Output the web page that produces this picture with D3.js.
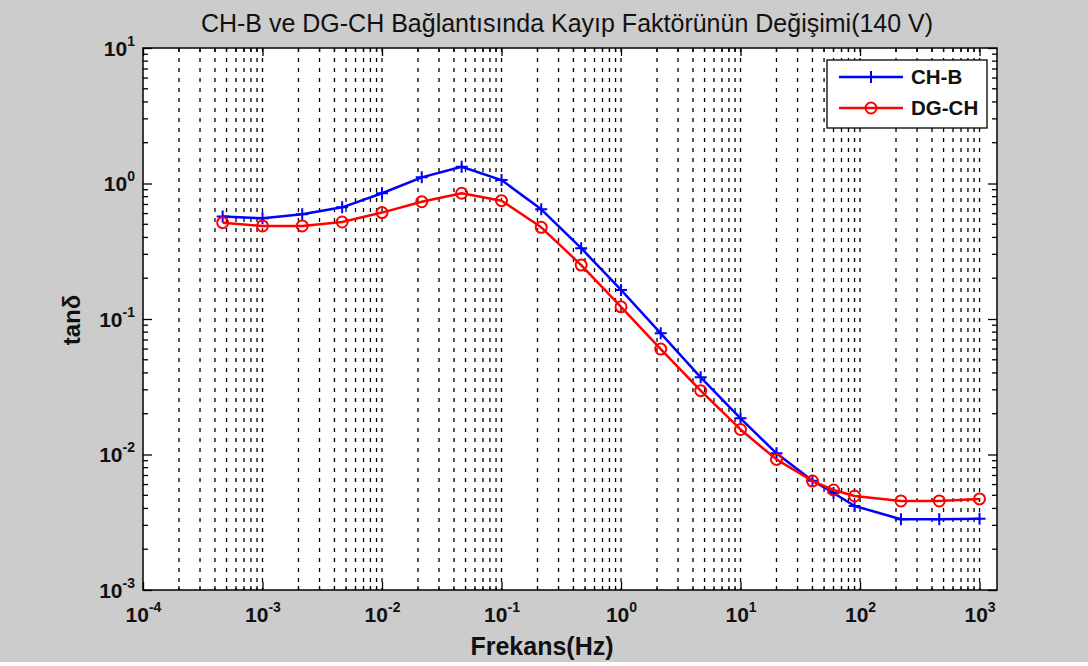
<!DOCTYPE html>
<html>
<head>
<meta charset="utf-8">
<script src="https://cdn.jsdelivr.net/npm/d3@7"></script>
<style>
  html, body { margin: 0; padding: 0; background: #cccccc; }
  svg { display: block; }
</style>
</head>
<body>
<svg id="chart" width="1088" height="666"></svg>
<script>
// Measurement frequencies (Hz)
const frequencies = [4.64e-4, 1e-3, 2.15e-3, 4.64e-3, 0.01, 0.0215, 0.0464, 0.1, 0.215, 0.464,
                     1, 2.15, 4.64, 10, 20, 40, 60, 90, 220, 460, 1000];
// Loss factor tanδ for the CH-B connection
const chB = [0.57, 0.553, 0.593, 0.667, 0.847, 1.11, 1.33, 1.06, 0.645, 0.333,
             0.164, 0.0784, 0.0371, 0.0185, 0.0102, 0.0064, 0.0052, 0.00417, 0.00333, 0.00333, 0.00335];
// Loss factor tanδ for the DG-CH connection
const dgCH = [0.514, 0.486, 0.486, 0.52, 0.61, 0.734, 0.847, 0.747, 0.475, 0.25,
              0.123, 0.060, 0.0296, 0.0153, 0.0092, 0.00637, 0.00547, 0.00494, 0.00454, 0.00454, 0.0047];
const seriesNames = ["CH-B", "DG-CH"];
const xTickExponents = [-4, -3, -2, -1, 0, 1, 2, 3];
const yTickExponents = [-3, -2, -1, 0, 1];
const titleText = "CH-B ve DG-CH Bağlantısında Kayıp Faktörünün Değişimi(140 V)";
const xLabelText = "Frekans(Hz)";
const yLabelText = "tanδ";

const svg = d3.select("#chart");
const W = 1088, H = 666;
const plot = { left: 143, right: 997, top: 48, bottom: 590 };

svg.append("rect").attr("width", W).attr("height", H).attr("fill", "#cccccc");
svg.append("rect").attr("x", 0).attr("y", 662).attr("width", W).attr("height", 4).attr("fill", "#ffffff");

const x = d3.scaleLog().domain([1e-4, 1400]).range([plot.left, plot.right]);
const y = d3.scaleLog().domain([1e-3, 10]).range([plot.bottom, plot.top]);

const font = "'Liberation Sans', Arial, sans-serif";

// plot background
svg.append("rect")
  .attr("x", plot.left).attr("y", plot.top)
  .attr("width", plot.right - plot.left).attr("height", plot.bottom - plot.top)
  .attr("fill", "#ffffff");

// minor / major positions for the log x grid
const xGridVals = [];
for (let e = -4; e <= 3; e++) {
  for (let m = 1; m <= 9; m++) {
    const v = m * Math.pow(10, e);
    if (v > 1e-4 && v <= 1e3) xGridVals.push(v);
  }
}
const yMinorVals = [];
for (let e = -3; e < 1; e++) {
  for (let m = 2; m <= 9; m++) yMinorVals.push(m * Math.pow(10, e));
}

// dotted vertical grid
svg.append("g").selectAll("line").data(xGridVals).join("line")
  .attr("x1", d => x(d)).attr("x2", d => x(d))
  .attr("y1", plot.top).attr("y2", plot.bottom)
  .attr("stroke", "#000").attr("stroke-width", 1.3)
  .attr("stroke-dasharray", "4,6");

const xMajors = xTickExponents.map(e => Math.pow(10, e));
const yMajors = yTickExponents.map(e => Math.pow(10, e));

// axes with inward ticks
const xAxisBottom = d3.axisBottom(x).tickValues(xMajors).tickSizeInner(-8).tickSizeOuter(0).tickPadding(0);
const gxb = svg.append("g").attr("transform", `translate(0,${plot.bottom})`).call(xAxisBottom);
gxb.select(".domain").remove();
gxb.selectAll("line").attr("stroke", "#000").attr("stroke-width", 1.3);

const gxt = svg.append("g").attr("transform", `translate(0,${plot.top})`)
  .call(d3.axisTop(x).tickValues(xMajors).tickSizeInner(-8).tickSizeOuter(0).tickFormat(""));
gxt.select(".domain").remove();
gxt.selectAll("line").attr("stroke", "#000").attr("stroke-width", 1.3);

// x minor ticks
[plot.bottom, plot.top].forEach((yy, i) => {
  svg.append("g").selectAll("line").data(xGridVals.filter(v => !xMajors.includes(v))).join("line")
    .attr("x1", d => x(d)).attr("x2", d => x(d))
    .attr("y1", yy).attr("y2", i === 0 ? yy - 4 : yy + 4)
    .attr("stroke", "#000").attr("stroke-width", 1.3);
});

const gyl = svg.append("g").attr("transform", `translate(${plot.left},0)`)
  .call(d3.axisLeft(y).tickValues(yMajors).tickSizeInner(-9).tickSizeOuter(0).tickPadding(0));
gyl.select(".domain").remove();
gyl.selectAll("line").attr("stroke", "#000").attr("stroke-width", 1.3);

const gyr = svg.append("g").attr("transform", `translate(${plot.right},0)`)
  .call(d3.axisRight(y).tickValues(yMajors).tickSizeInner(-9).tickSizeOuter(0).tickFormat(""));
gyr.select(".domain").remove();
gyr.selectAll("line").attr("stroke", "#000").attr("stroke-width", 1.3);

// y minor ticks
[plot.left, plot.right].forEach((xx, i) => {
  svg.append("g").selectAll("line").data(yMinorVals).join("line")
    .attr("x1", xx).attr("x2", i === 0 ? xx + 5 : xx - 5)
    .attr("y1", d => y(d)).attr("y2", d => y(d))
    .attr("stroke", "#000").attr("stroke-width", 1.3);
});

// power-of-ten tick labels
function powerLabel(sel) {
  sel.each(function(d) {
    const t = d3.select(this);
    t.text(null);
    const e = Math.round(Math.log10(d));
    t.append("tspan").text("10");
    t.append("tspan").attr("font-size", 14).attr("dy", -10).text(String(e));
  });
}
gxb.selectAll(".tick text")
  .attr("y", 32).attr("dy", 0)
  .attr("font-family", font).attr("font-size", 21).attr("font-weight", "bold")
  .attr("fill", "#111").attr("text-anchor", "middle")
  .call(powerLabel);
gyl.selectAll(".tick text")
  .attr("x", -8).attr("dy", 0).attr("y", 7)
  .attr("font-family", font).attr("font-size", 21).attr("font-weight", "bold")
  .attr("fill", "#111").attr("text-anchor", "end")
  .call(powerLabel);

// axes box
svg.append("rect")
  .attr("x", plot.left).attr("y", plot.top)
  .attr("width", plot.right - plot.left).attr("height", plot.bottom - plot.top)
  .attr("fill", "none").attr("stroke", "#000").attr("stroke-width", 1.5);

// series
const series = [
  { name: seriesNames[0], values: chB, color: "#0000ff", marker: "plus" },
  { name: seriesNames[1], values: dgCH, color: "#ff0000", marker: "circle" }
];
const line = d3.line().x(d => x(d[0])).y(d => y(d[1]));

function drawMarker(g, kind, color) {
  if (kind === "plus") {
    g.append("path").attr("d", "M-6,0H6M0,-6V6")
      .attr("stroke", color).attr("stroke-width", 2).attr("fill", "none");
  } else {
    g.append("circle").attr("r", 5.5)
      .attr("stroke", color).attr("stroke-width", 2).attr("fill", "none");
  }
}

series.forEach(s => {
  const pts = frequencies.map((f, i) => [f, s.values[i]]);
  svg.append("path").datum(pts).attr("d", line)
    .attr("fill", "none").attr("stroke", s.color).attr("stroke-width", 2.5)
    .attr("stroke-linejoin", "round");
  svg.append("g").selectAll("g").data(pts).join("g")
    .attr("transform", d => `translate(${x(d[0])},${y(d[1])})`)
    .each(function() { drawMarker(d3.select(this), s.marker, s.color); });
});

// legend
const lg = svg.append("g");
lg.append("rect").attr("x", 827).attr("y", 60).attr("width", 160).attr("height", 68)
  .attr("fill", "#fff").attr("stroke", "#000").attr("stroke-width", 1.3);
series.forEach((s, i) => {
  const yy = 77 + i * 31;
  lg.append("line").attr("x1", 839).attr("x2", 903).attr("y1", yy).attr("y2", yy)
    .attr("stroke", s.color).attr("stroke-width", 2.5);
  drawMarker(lg.append("g").attr("transform", `translate(871,${yy})`), s.marker, s.color);
  lg.append("text").attr("x", 911).attr("y", yy + 7)
    .attr("font-family", font).attr("font-size", 20.5).attr("font-weight", "bold")
    .attr("fill", "#111").text(s.name);
});

// title and axis labels
svg.append("text").attr("x", 567).attr("y", 32).attr("text-anchor", "middle")
  .attr("font-family", font).attr("font-size", 25).attr("fill", "#111").text(titleText);
svg.append("text").attr("x", 542).attr("y", 655).attr("text-anchor", "middle")
  .attr("font-family", font).attr("font-size", 25).attr("font-weight", "bold")
  .attr("fill", "#111").text(xLabelText);
svg.append("text").attr("transform", "translate(80,320) rotate(-90)").attr("text-anchor", "middle")
  .attr("font-family", font).attr("font-size", 24).attr("font-weight", "bold")
  .attr("fill", "#111").text(yLabelText);
</script>
</body>
</html>
